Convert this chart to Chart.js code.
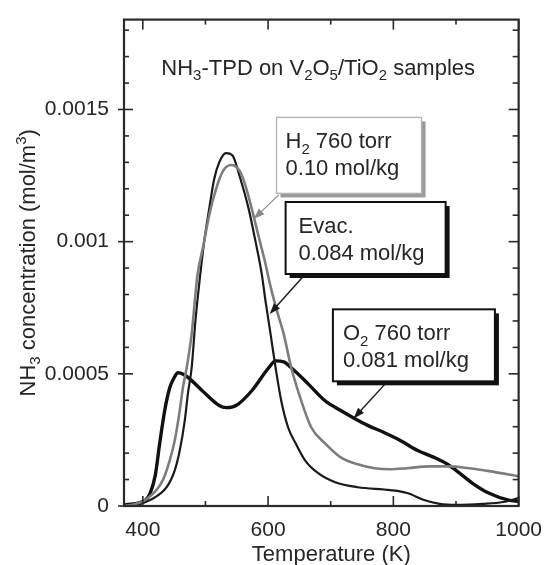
<!DOCTYPE html>
<html>
<head>
<meta charset="utf-8">
<script src="https://cdn.jsdelivr.net/npm/chart.js@4.4.1/dist/chart.umd.min.js"></script>
<style>
  html, body { margin: 0; padding: 0; background: #fff; }
  #wrap { width: 546px; height: 565px; }
</style>
</head>
<body>
<div id="wrap"><canvas id="tpd" width="546" height="565"></canvas></div>
<script>
// NH3-TPD desorption curves: temperature (K) and NH3 concentration (mol/m3)
const tempO2 = [372, 404, 412, 420, 427, 435, 443, 450, 456, 465, 475, 495, 522, 533, 549, 574, 601, 612, 625, 637, 664, 691, 716, 738, 759, 785, 811, 838, 864, 885, 900, 927, 953, 984, 1000];
const concO2 = [0.000004, 0.000022, 0.00005, 0.000117, 0.000237, 0.000361, 0.000447, 0.000485, 0.000504, 0.000498, 0.000481, 0.000436, 0.00038, 0.000372, 0.00038, 0.000436, 0.000523, 0.000549, 0.000545, 0.000523, 0.000462, 0.000398, 0.000361, 0.000331, 0.000305, 0.000278, 0.000248, 0.000211, 0.000185, 0.00016, 0.000135, 0.000085, 0.000048, 0.000022, 0.000018];

const tempEvac = [372, 396, 412, 438, 451, 459, 467, 472, 478, 484, 491, 498, 506, 514, 522, 533, 543, 554, 569, 580, 590, 596, 604, 612, 621, 632, 644, 659, 680, 707, 743, 795, 822, 849, 874, 901, 943, 975, 1000];
const concEvac = [0, 0.000008, 0.000023, 0.000071, 0.000135, 0.00021, 0.000323, 0.000425, 0.000523, 0.0007, 0.00086, 0.001, 0.001124, 0.001237, 0.0013, 0.001335, 0.001327, 0.001252, 0.001124, 0.001, 0.000876, 0.000774, 0.00065, 0.000523, 0.000398, 0.000297, 0.000237, 0.000173, 0.000124, 0.00009, 0.000071, 0.00006, 0.000049, 0.000023, 0.000008, 0.000004, 0.000008, 0.000015, 0.00003];

const tempH2 = [372, 388, 404, 432, 443, 451, 459, 464, 470, 478, 483, 487, 497, 506, 517, 528, 541, 554, 562, 574, 585, 595, 604, 614, 625, 637, 653, 669, 691, 716, 743, 770, 795, 822, 858, 890, 921, 953, 1000];
const concH2 = [0, 0.000008, 0.000023, 0.000098, 0.000173, 0.000248, 0.000361, 0.000447, 0.000523, 0.00065, 0.000774, 0.000868, 0.000989, 0.0011, 0.0012, 0.001267, 0.00129, 0.00127, 0.001226, 0.001124, 0.001019, 0.000925, 0.00083, 0.00074, 0.00065, 0.000523, 0.000398, 0.000297, 0.000237, 0.000184, 0.000158, 0.000143, 0.000139, 0.000143, 0.00015, 0.00015, 0.000143, 0.000132, 0.000112];

// sample labels: "_" marks a subscript character, "^" a superscript one
const labelH2 = ["H_2 760 torr", "0.10 mol/kg"];
const labelEvac = ["Evac.", "0.084 mol/kg"];
const labelO2 = ["O_2 760 torr", "0.081 mol/kg"];
const titleText = "NH_3-TPD on V_2O_5/TiO_2 samples";
const xTitle = "Temperature (K)";
const yTitle = "NH_3 concentration (mol/m^3)";
const xTickLabels = [400, 600, 800, 1000];
const yTickLabels = [0, 0.0005, 0.001, 0.0015];

const FONT = '"Liberation Sans", Arial, Helvetica, sans-serif';
const pts = (xs, ys) => xs.map((x, i) => ({ x, y: ys[i] }));

// callout boxes, anchored at their top-left corner in data units
const callouts = [
  { lines: labelH2, at: [613.5, 0.00147], w: 145, h: 76, gray: true, pad: 9,
    from: [617, 0.001177], to: [577, 0.001086] },
  { lines: labelEvac, at: [628, 0.00115], w: 160, h: 72, gray: false, pad: 13,
    from: [656, 0.000868], to: [602.5, 0.000726] },
  { lines: labelO2, at: [703.5, 0.000744], w: 162, h: 72, gray: false, pad: 10,
    from: [787, 0.000462], to: [736.5, 0.000331] }
];

function richParts(str) {
  const parts = [];
  let buf = "";
  for (let i = 0; i < str.length; i++) {
    const c = str[i];
    if ((c === "_" || c === "^") && i + 1 < str.length) {
      if (buf) parts.push({ t: buf, k: 0 });
      buf = "";
      parts.push({ t: str[i + 1], k: c === "_" ? 1 : -1 });
      i++;
    } else buf += c;
  }
  if (buf) parts.push({ t: buf, k: 0 });
  return parts;
}

// draws text with sub/superscripts, y is the baseline
function drawRich(ctx, str, x, y, size, align) {
  const parts = richParts(str);
  const small = Math.round(size * 0.68);
  let total = 0;
  parts.forEach(p => {
    ctx.font = (p.k ? small : size) + "px " + FONT;
    p.w = ctx.measureText(p.t).width;
    total += p.w;
  });
  let cx = align === "center" ? x - total / 2 : x;
  ctx.textAlign = "left";
  ctx.textBaseline = "alphabetic";
  parts.forEach(p => {
    ctx.font = (p.k ? small : size) + "px " + FONT;
    const dy = p.k === 1 ? size * 0.24 : p.k === -1 ? -size * 0.4 : 0;
    ctx.fillText(p.t, cx, y + dy);
    cx += p.w;
  });
}

function drawArrow(ctx, x1, y1, x2, y2, color, width) {
  const ang = Math.atan2(y2 - y1, x2 - x1);
  const len = 11, half = 4;
  const c = Math.cos(ang), s = Math.sin(ang);
  ctx.strokeStyle = color;
  ctx.lineWidth = width;
  ctx.beginPath();
  ctx.moveTo(x1, y1);
  ctx.lineTo(x2 - c * len * 0.7, y2 - s * len * 0.7);
  ctx.stroke();
  ctx.fillStyle = color;
  ctx.beginPath();
  ctx.moveTo(x2, y2);
  ctx.lineTo(x2 - c * len + s * half, y2 - s * len - c * half);
  ctx.lineTo(x2 - c * len - s * half, y2 - s * len + c * half);
  ctx.closePath();
  ctx.fill();
}

// frame with inward ticks on all four sides
const frameTicks = {
  id: "frameTicks",
  afterDraw(chart) {
    const { ctx, chartArea: a, scales: { x, y } } = chart;
    const seg = (x1, y1, x2, y2) => { ctx.beginPath(); ctx.moveTo(x1, y1); ctx.lineTo(x2, y2); ctx.stroke(); };
    ctx.save();
    ctx.strokeStyle = "#2a2a2a";
    ctx.lineWidth = 1.6;
    x.ticks.forEach(t => {
      const px = x.getPixelForValue(t.value);
      const len = t.value % 200 === 0 ? 10 : 5;
      seg(px, a.bottom, px, a.bottom - len);
      seg(px, a.top, px, a.top + len);
    });
    y.ticks.forEach(t => {
      const py = y.getPixelForValue(t.value);
      const major = Math.abs(t.value / 0.0005 - Math.round(t.value / 0.0005)) < 1e-6;
      seg(a.left - (major ? 6 : 0), py, a.left + (major ? 9 : 5), py);
      seg(a.right - (major ? 10 : 6), py, a.right, py);
    });
    ctx.lineWidth = 2.2;
    ctx.strokeRect(a.left, a.top, a.right - a.left, a.bottom - a.top);
    ctx.restore();
  }
};

// title, callout boxes with arrows, axis titles
const notes = {
  id: "notes",
  afterDatasetsDraw(chart) {
    const { ctx, chartArea: a, scales: { x, y } } = chart;
    ctx.save();
    ctx.fillStyle = "#262626";
    drawRich(ctx, titleText, x.getPixelForValue(680), y.getPixelForValue(0.001632), 22, "center");

    callouts.forEach(b => {
      const px = x.getPixelForValue(b.at[0]);
      const py = y.getPixelForValue(b.at[1]);
      ctx.fillStyle = b.gray ? "#9a9a9a" : "#111";
      ctx.fillRect(px + 4, py + 4, b.w, b.h);
      ctx.fillStyle = "#fff";
      ctx.fillRect(px, py, b.w, b.h);
      ctx.lineWidth = b.gray ? 1.4 : 2;
      ctx.strokeStyle = b.gray ? "#b4b4b4" : "#111";
      ctx.strokeRect(px, py, b.w, b.h);
      ctx.fillStyle = "#262626";
      drawRich(ctx, b.lines[0], px + b.pad, py + 31, 22, "left");
      drawRich(ctx, b.lines[1], px + b.pad, py + 58, 22, "left");
      drawArrow(ctx, x.getPixelForValue(b.from[0]), y.getPixelForValue(b.from[1]),
        x.getPixelForValue(b.to[0]), y.getPixelForValue(b.to[1]),
        b.gray ? "#8a8a8a" : "#1a1a1a", b.gray ? 1.2 : 1.4);
    });

    ctx.fillStyle = "#262626";
    drawRich(ctx, xTitle, (a.left + a.right) / 2 + 10, 561, 22, "center");
    ctx.translate(27, (a.top + a.bottom) / 2);
    ctx.rotate(-Math.PI / 2);
    drawRich(ctx, yTitle, 0, 8, 22, "center");
    ctx.restore();
  }
};

new Chart(document.getElementById("tpd"), {
  type: "line",
  data: {
    datasets: [
      { label: "H2 760 torr", data: pts(tempH2, concH2), borderColor: "#7d7d7d", borderWidth: 2.6 },
      { label: "Evac.", data: pts(tempEvac, concEvac), borderColor: "#1a1a1a", borderWidth: 2.2 },
      { label: "O2 760 torr", data: pts(tempO2, concO2), borderColor: "#111", borderWidth: 3.4 }
    ]
  },
  options: {
    responsive: false,
    animation: false,
    devicePixelRatio: 1,
    layout: { padding: { top: 16, right: 23, left: 0, bottom: 0 } },
    elements: {
      point: { radius: 0 },
      line: { cubicInterpolationMode: "monotone", fill: false, borderCapStyle: "round", borderJoinStyle: "round" }
    },
    plugins: { legend: { display: false }, tooltip: { enabled: false } },
    scales: {
      x: {
        type: "linear",
        min: 370,
        max: 1000,
        grid: { display: false },
        border: { display: false },
        afterFit: s => { s.height = 59; },
        ticks: {
          stepSize: 100,
          includeBounds: false,
          autoSkip: false,
          maxRotation: 0,
          padding: 4,
          color: "#262626",
          font: { family: FONT, size: 21 },
          callback: v => xTickLabels.includes(v) ? String(v) : ""
        }
      },
      y: {
        min: 0,
        max: 0.00184,
        grid: { display: false },
        border: { display: false },
        afterFit: s => { s.width = 124; },
        ticks: {
          stepSize: 0.0001,
          includeBounds: false,
          autoSkip: false,
          padding: 7,
          color: "#262626",
          font: { family: FONT, size: 21 },
          callback: v => {
            const r = +v.toFixed(5);
            return yTickLabels.includes(r) ? String(r) : "";
          }
        }
      }
    }
  },
  plugins: [notes, frameTicks]
});
</script>
</body>
</html>
